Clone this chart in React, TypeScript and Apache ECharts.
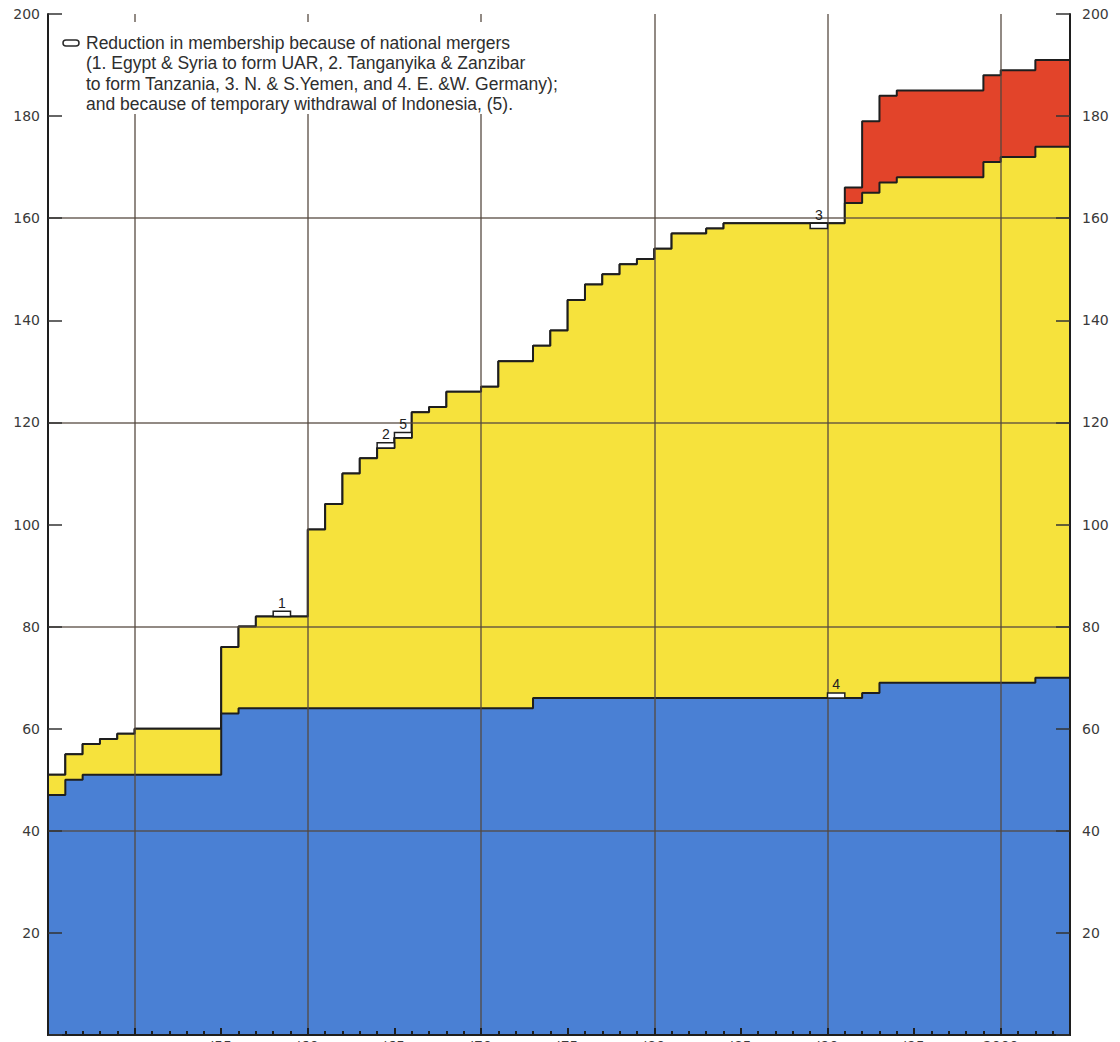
import React, { useEffect, useRef } from "react";
import * as echarts from "echarts";

// ---- data (value applies from the given year until the next change) ----
const totalSteps: [number, number][] = [
  [1945, 51], [1946, 55], [1947, 57], [1948, 58], [1949, 59], [1950, 60],
  [1955, 76], [1956, 80], [1957, 82], [1960, 99], [1961, 104], [1962, 110],
  [1963, 113], [1964, 115], [1965, 117], [1966, 122], [1967, 123], [1968, 126],
  [1970, 127], [1971, 132], [1973, 135], [1974, 138], [1975, 144], [1976, 147],
  [1977, 149], [1978, 151], [1979, 152], [1980, 154], [1981, 157], [1983, 158],
  [1984, 159], [1991, 166], [1992, 179], [1993, 184], [1994, 185], [1999, 188],
  [2000, 189], [2002, 191],
];
const blueSteps: [number, number][] = [
  [1945, 47], [1946, 50], [1947, 51], [1955, 63], [1956, 64], [1973, 66],
  [1992, 67], [1993, 69], [2002, 70],
];
const redSteps: [number, number][] = [[1991, 3], [1992, 14], [1993, 17]];

const startYear = 1945;
const endYear = 2004;
const gridYears = [1950, 1960, 1970, 1980, 1990, 2000];
const gridValues = [40, 80, 120, 160];
const xLabelYears = [1955, 1960, 1965, 1970, 1975, 1980, 1985, 1990, 1995, 2000];

const mergerLabels = ["1", "2", "5", "3", "4"];
const mergerX0 = [1958, 1964, 1965, 1989, 1990];
const mergerX1 = [1959, 1965, 1966, 1990, 1991];
const mergerY0 = [82, 115, 117, 158, 66];
const mergerY1 = [83, 116, 118, 159, 67];

const legendLines = [
  "Reduction in membership because of national mergers",
  "(1. Egypt & Syria to form UAR, 2. Tanganyika & Zanzibar",
  "to form Tanzania, 3. N. & S.Yemen, and 4. E. &W. Germany);",
  "and because of temporary withdrawal of Indonesia, (5).",
];

const COLORS = {
  blue: "#4a80d4",
  yellow: "#f6e23c",
  red: "#e2442a",
  outline: "#1e1e1e",
  grid: "#54473e",
  text: "#3a3a3a",
};

function valueAt(steps: [number, number][], year: number): number {
  let v = 0;
  for (const [y, val] of steps) if (y <= year) v = val;
  return v;
}

function buildSeries(fn: (y: number) => number): [number, number][] {
  const out: [number, number][] = [];
  for (let y = startYear; y < endYear; y++) out.push([y, fn(y)]);
  out.push([endYear, fn(endYear - 1)]);
  return out;
}

export default function App() {
  const ref = useRef<HTMLDivElement>(null);

  useEffect(() => {
    document.body.style.margin = "0";
    if (!ref.current) return;
    const chart = echarts.init(ref.current, null, { renderer: "svg" });

    const blueTop = buildSeries((y) => valueAt(blueSteps, y));
    const redTop = buildSeries((y) => valueAt(totalSteps, y));
    const yellowTop = buildSeries((y) => valueAt(totalSteps, y) - valueAt(redSteps, y));

    const font = "Liberation Sans, Arial, Helvetica, sans-serif";
    const tickFont = "DejaVu Sans, Verdana, sans-serif";

    const areaSeries = (name: string, data: [number, number][], color: string, z: number) => ({
      name,
      type: "line",
      step: "end",
      data,
      z,
      showSymbol: false,
      symbol: "none",
      silent: true,
      lineStyle: { color: COLORS.outline, width: 2 },
      areaStyle: { color, opacity: 1 },
    });

    const blue: any = areaSeries("blue", blueTop, COLORS.blue, 4);
    blue.markLine = {
      silent: true,
      z: 10,
      symbol: ["none", "none"],
      label: { show: false },
      lineStyle: { color: COLORS.grid, width: 1.5, type: "solid", opacity: 0.85 },
      data: [
        ...gridYears.map((x) => ({ xAxis: x })),
        ...gridValues.map((v) => ({ yAxis: v })),
      ],
    };
    blue.markArea = {
      silent: true,
      z: 12,
      itemStyle: { color: "#ffffff", borderColor: COLORS.outline, borderWidth: 1.5 },
      label: {
        show: true,
        position: "top",
        distance: 1,
        formatter: "{b}",
        fontSize: 14,
        color: "#222",
        fontFamily: font,
      },
      data: mergerLabels.map((lab, i) => [
        { name: lab, coord: [mergerX0[i], mergerY0[i]] },
        { coord: [mergerX1[i], mergerY1[i]] },
      ]),
    };

    const yAxisBase = {
      type: "value",
      min: 0,
      max: 200,
      interval: 20,
      z: 20,
      axisLine: { show: true, lineStyle: { color: COLORS.outline, width: 2 } },
      axisTick: { show: true, inside: true, length: 14, lineStyle: { color: "#333", width: 1.5 } },
      splitLine: { show: false },
      axisLabel: {
        formatter: (v: number) => (v === 0 ? "" : String(v)),
        fontSize: 14,
        color: COLORS.text,
        fontFamily: tickFont,
      },
    };

    chart.setOption({
      animation: false,
      backgroundColor: "#ffffff",
      grid: { left: 48, right: 50, top: 14, bottom: 7, outerBoundsMode: "none", containLabel: false },
      xAxis: [
        {
          type: "value",
          min: startYear,
          max: endYear,
          interval: 5,
          z: 20,
          axisLine: { show: true, lineStyle: { color: COLORS.outline, width: 2 } },
          axisTick: { show: true, inside: true, length: 7, lineStyle: { color: COLORS.outline, width: 2 } },
          minorTick: { show: true, splitNumber: 5, length: 4, lineStyle: { color: COLORS.outline, width: 2 } },
          splitLine: { show: false },
          minorSplitLine: { show: false },
          axisLabel: {
            margin: 4,
            fontSize: 14,
            color: COLORS.text,
            fontFamily: tickFont,
            showMaxLabel: false,
            formatter: (v: number) =>
              xLabelYears.includes(v) ? (v === 2000 ? "2000" : "'" + String(v).slice(2)) : "",
          },
        },
        {
          type: "value",
          position: "top",
          min: startYear,
          max: endYear,
          z: 20,
          axisLine: { show: true, lineStyle: { color: COLORS.outline, width: 2 } },
          axisTick: { show: false },
          axisLabel: { show: false },
          splitLine: { show: false },
        },
      ],
      yAxis: [
        { ...yAxisBase, position: "left", axisLabel: { ...yAxisBase.axisLabel, margin: 8 } },
        { ...yAxisBase, position: "right", axisLabel: { ...yAxisBase.axisLabel, margin: 12 } },
      ],
      series: [
        areaSeries("red", redTop, COLORS.red, 2),
        areaSeries("yellow", yellowTop, COLORS.yellow, 3),
        blue,
      ],
      graphic: [
        {
          type: "rect",
          z: 100,
          silent: true,
          shape: { x: 50, y: 22, width: 570, height: 92 },
          style: { fill: "#ffffff" },
        },
        {
          type: "rect",
          z: 101,
          silent: true,
          shape: { x: 63, y: 40, width: 16, height: 6, r: 3 },
          style: { fill: "#ffffff", stroke: "#2a2a2a", lineWidth: 1.5 },
        },
        ...legendLines.map((t, i) => ({
          type: "text",
          z: 101,
          silent: true,
          x: 86,
          y: 43 + i * 20.3,
          style: {
            text: t,
            fill: "#2e2e2e",
            fontSize: 17.5,
            fontFamily: font,
            textVerticalAlign: "middle",
            verticalAlign: "middle",
          },
        })),
      ],
    });

    return () => chart.dispose();
  }, []);

  return <div ref={ref} style={{ width: 1120, height: 1042 }} />;
}
